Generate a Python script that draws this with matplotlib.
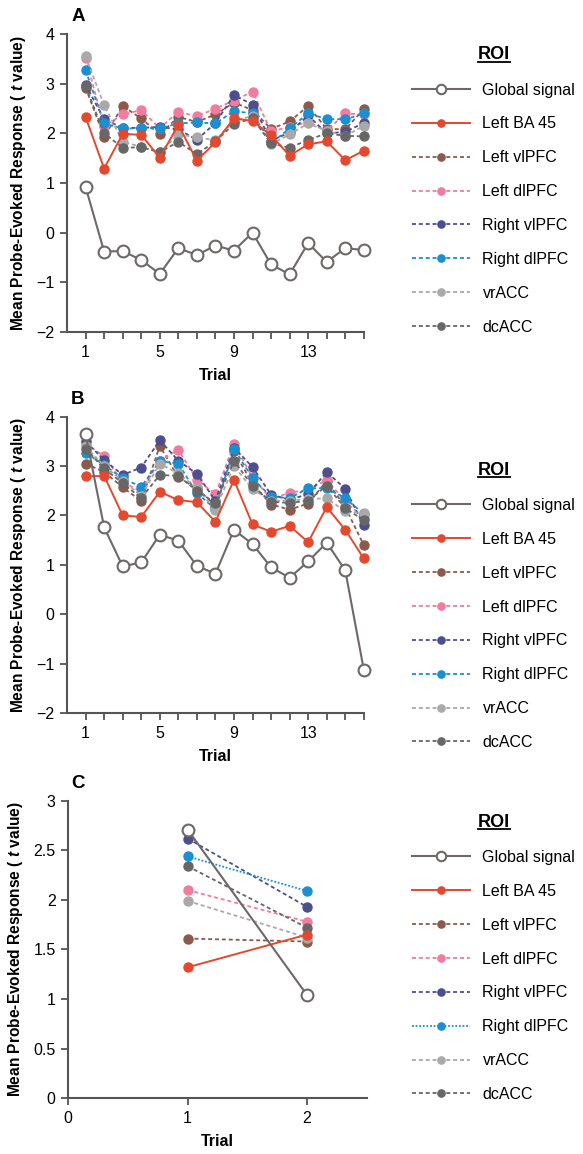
#!/usr/bin/env python3

import numpy as np
import matplotlib
matplotlib.use("Agg")
import matplotlib.pyplot as plt
from matplotlib.lines import Line2D

"""
ROI probe-evoked responses per trial, three panels (A, B, C).
Values read by eye off the published figure.
"""

plt.rcParams["font.family"] = ["Liberation Sans", "DejaVu Sans"]
plt.rcParams["mathtext.fontset"] = "custom"
plt.rcParams["mathtext.it"] = "Liberation Sans:italic:bold"
plt.rcParams["mathtext.rm"] = "Liberation Sans:bold"

roi_labels = ["Global signal", "Left BA 45", "Left vlPFC", "Left dlPFC",
              "Right vlPFC", "Right dlPFC", "vrACC", "dcACC"]

trials_ab = list(range(1, 17))
trials_c = [1, 2]

# panel A
a_global = [0.92, -0.38, -0.37, -0.55, -0.83, -0.31, -0.45, -0.26,
            -0.36, 0.00, -0.64, -0.84, -0.21, -0.59, -0.31, -0.35]
a_ba45 = [2.33, 1.29, 1.99, 1.97, 1.51, 2.17, 1.45, 1.82,
          2.30, 2.25, 1.96, 1.55, 1.78, 1.84, 1.46, 1.65]
a_lvl = [2.92, 1.93, 2.55, 2.30, 1.98, 2.33, 2.23, 2.38,
         2.62, 2.47, 2.09, 2.24, 2.55, 2.09, 2.08, 2.49]
a_ldl = [3.52, 2.14, 2.38, 2.47, 2.10, 2.44, 2.34, 2.50,
         2.66, 2.84, 2.04, 2.13, 2.23, 2.05, 2.40, 2.38]
a_rvl = [2.98, 2.28, 2.11, 2.11, 2.13, 2.08, 1.87, 2.21,
         2.77, 2.58, 1.85, 2.02, 2.36, 2.00, 2.03, 2.21]
a_rdl = [3.27, 2.20, 2.10, 2.10, 2.10, 2.20, 2.22, 2.20,
         2.45, 2.40, 1.80, 2.10, 2.40, 2.29, 2.28, 2.40]
a_vr = [3.55, 2.57, 1.83, 1.73, 1.62, 1.98, 1.92, 1.86,
        2.25, 2.35, 1.78, 1.98, 2.20, 2.05, 1.95, 2.15]
a_dc = [2.95, 2.00, 1.71, 1.72, 1.62, 1.83, 1.58, 1.84,
        2.19, 2.30, 1.80, 1.71, 1.87, 2.00, 1.95, 1.94]

# panel B
b_global = [3.65, 1.76, 0.97, 1.05, 1.61, 1.49, 0.98, 0.82,
            1.71, 1.42, 0.95, 0.74, 1.07, 1.45, 0.89, -1.12]
b_ba45 = [2.79, 2.80, 2.00, 1.97, 2.48, 2.31, 2.27, 1.87,
          2.72, 1.82, 1.67, 1.79, 1.46, 2.17, 1.71, 1.13]
b_lvl = [3.05, 2.88, 2.57, 2.29, 3.41, 2.77, 2.55, 2.20,
         3.30, 2.64, 2.22, 2.12, 2.24, 2.70, 2.17, 1.40]
b_ldl = [3.45, 3.20, 2.67, 2.49, 3.11, 3.33, 2.72, 2.43,
         3.45, 2.77, 2.33, 2.46, 2.52, 2.72, 2.29, 1.95]
b_rvl = [3.50, 3.12, 2.82, 2.97, 3.52, 3.11, 2.84, 2.30,
         3.37, 2.98, 2.42, 2.32, 2.43, 2.88, 2.54, 1.80]
b_rdl = [3.27, 3.02, 2.75, 2.58, 3.10, 3.05, 2.45, 2.13,
         3.35, 2.75, 2.38, 2.35, 2.55, 2.55, 2.35, 2.03]
b_vr = [3.40, 3.00, 2.70, 2.40, 3.05, 2.85, 2.55, 2.12,
        3.00, 2.53, 2.30, 2.30, 2.33, 2.35, 2.08, 2.05]
b_dc = [3.35, 2.95, 2.65, 2.35, 2.82, 2.80, 2.50, 2.25,
        3.10, 2.60, 2.28, 2.25, 2.30, 2.60, 2.15, 1.90]

# panel C
c_global = [2.71, 1.04]
c_ba45 = [1.32, 1.65]
c_lvl = [1.61, 1.58]
c_ldl = [2.10, 1.78]
c_rvl = [2.62, 1.93]
c_rdl = [2.44, 2.09]
c_vr = [1.99, 1.62]
c_dc = [2.34, 1.72]

roi_colors = ["#6e6868", "#e2492f", "#8b5a4b", "#f07ca0",
              "#4d4f8c", "#1a8fd1", "#a9a9a9", "#676767"]

AXIS_GREY = "#555555"
DASH = (0, (2.2, 1.6))


def draw_panel(ax, x, series, dotted_rdl=False):
    for i, (vals, lab, col) in enumerate(zip(series, roi_labels, roi_colors)):
        if i == 0:
            ax.plot(x, vals, "-", color=col, lw=1.5, marker="o", ms=8.5,
                    mfc="white", mec=col, mew=1.5, label=lab, zorder=5,
                    clip_on=False)
        elif i == 1:
            ax.plot(x, vals, "-", color=col, lw=1.4, marker="o", ms=6.5,
                    mfc=col, mec=col, label=lab, zorder=4, clip_on=False)
        else:
            ls = DASH
            if dotted_rdl and i == 5:
                ls = (0, (1, 1))
            ax.plot(x, vals, linestyle=ls, color=col, lw=1.3, marker="o",
                    ms=6.5, mfc=col, mec=col, label=lab, zorder=3,
                    clip_on=False)

    for side in ["top", "right"]:
        ax.spines[side].set_visible(False)
    for side in ["left", "bottom"]:
        ax.spines[side].set_color(AXIS_GREY)
        ax.spines[side].set_linewidth(1.5)
    ax.tick_params(which="both", direction="out", length=5, width=1.3,
                   color=AXIS_GREY, labelsize=11.5, pad=4)
    ax.set_xlabel("Trial", fontsize=11.5, fontweight="bold", labelpad=6)
    ax.set_ylabel("Mean Probe-Evoked Response ( $t$ value)", fontsize=11.2,
                  fontweight="bold", labelpad=6)


def add_legend(ax, fig, y_top):
    leg = ax.legend(loc="upper left", bbox_to_anchor=(0.707, y_top),
                    bbox_transform=fig.transFigure, frameon=False,
                    title="ROI", fontsize=11.5, handlelength=3.6,
                    handletextpad=0.8, labelspacing=1.18, borderpad=0,
                    borderaxespad=0, markerscale=0.8)
    leg.get_title().set_fontsize(13)
    leg.get_title().set_fontweight("bold")
    leg._legend_box.sep = 14
    return leg


fig = plt.figure(figsize=(5.83, 11.54), dpi=100)

ax_a = fig.add_axes([0.115, 0.7123, 0.509, 0.2582])
ax_b = fig.add_axes([0.115, 0.382, 0.509, 0.257])
ax_c = fig.add_axes([0.117, 0.0485, 0.512, 0.2575])

draw_panel(ax_a, trials_ab, [a_global, a_ba45, a_lvl, a_ldl, a_rvl, a_rdl, a_vr, a_dc])
draw_panel(ax_b, trials_ab, [b_global, b_ba45, b_lvl, b_ldl, b_rvl, b_rdl, b_vr, b_dc])
draw_panel(ax_c, trials_c, [c_global, c_ba45, c_lvl, c_ldl, c_rvl, c_rdl, c_vr, c_dc],
           dotted_rdl=True)

for ax in [ax_a, ax_b]:
    ax.set_xlim(0, 16)
    ax.set_ylim(-2, 4)
    ax.set_yticks(np.arange(-2, 5, 1))
    ax.set_yticklabels(["\u22122", "\u22121", "0", "1", "2", "3", "4"])
    ax.set_xticks([1, 5, 9, 13])
    ax.set_xticks(trials_ab, minor=True)

ax_c.set_xlim(0, 2.5)
ax_c.set_ylim(0, 3)
ax_c.set_xticks([0, 1, 2])
ax_c.set_yticks([0, 0.5, 1, 1.5, 2, 2.5, 3])
ax_c.set_yticklabels(["0", "0.5", "1", "1.5", "2", "2.5", "3"])

legs = [add_legend(ax_a, fig, 0.960), add_legend(ax_b, fig, 0.600),
        add_legend(ax_c, fig, 0.295)]

for lab, ypos in zip(["A", "B", "C"], [0.986, 0.654, 0.321]):
    fig.text(0.122, ypos, lab, fontsize=13.5, fontweight="bold",
             va="center", ha="left")

# underline the legend titles
fig.canvas.draw()
inv = fig.transFigure.inverted()
for leg in legs:
    bb = leg.get_title().get_window_extent()
    (x0, y0), (x1, y1) = inv.transform([(bb.x0, bb.y0), (bb.x1, bb.y1)])
    fig.add_artist(Line2D([x0, x1], [y0 + 0.001, y0 + 0.001],
                          transform=fig.transFigure, color="black", lw=1.3))

fig.savefig("out.png", dpi=100)
